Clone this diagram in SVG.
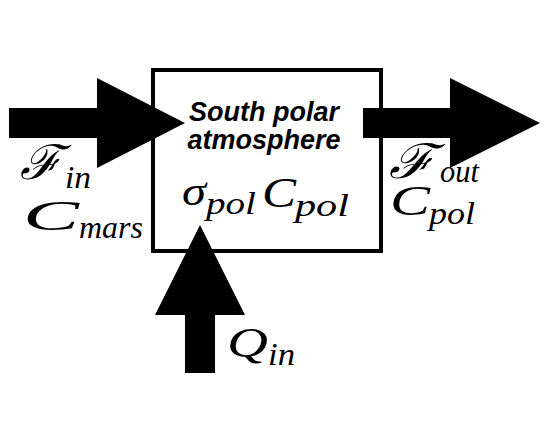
<svg xmlns="http://www.w3.org/2000/svg" width="545" height="421" viewBox="0 0 545 421">
<style>
.title{font-family:"Liberation Sans",Arial,sans-serif;font-weight:bold;font-style:italic;font-size:27px;fill:#000;text-anchor:middle}
.m{font-family:"Liberation Serif","DejaVu Serif",serif;font-style:italic;fill:#000}
.big{font-size:43px}
.scr{font-size:48px}
.sub{font-size:31px}
.arrow{fill:#000;stroke:none}
</style>
<rect width="545" height="421" fill="#fff"/>
<g id="polar-atmosphere">
<rect x="153" y="70" width="228" height="181" fill="#fff" stroke="#000" stroke-width="4"/>
<text class="title" x="264" y="121">South polar</text>
<text class="title" x="264" y="149">atmosphere</text>
<text class="m big" x="182" y="205" textLength="24" lengthAdjust="spacingAndGlyphs">σ</text>
<text class="m sub" x="206" y="214" textLength="50" lengthAdjust="spacingAndGlyphs">pol</text>
<text class="m big" x="262" y="207" textLength="34" lengthAdjust="spacingAndGlyphs">C</text>
<text class="m sub" x="295" y="216" textLength="54" lengthAdjust="spacingAndGlyphs">pol</text>
</g>
<g id="connectors">
<polygon class="arrow" points="9,108 97,108 97,78 185,123 97,168 97,138 9,138"/>
<polygon class="arrow" points="363,108 450,108 450,78 540,123 450,168 450,138 363,138"/>
<polygon class="arrow" points="185,373 185,315 155,315 200,225 245,315 215,315 215,373"/>
<text class="m scr" x="20" y="179" textLength="42" lengthAdjust="spacingAndGlyphs">ℱ</text>
<text class="m sub" x="65" y="188" textLength="26" lengthAdjust="spacingAndGlyphs">in</text>
<text class="m big" x="23" y="230" textLength="56" lengthAdjust="spacingAndGlyphs">C</text>
<text class="m sub" x="79" y="238" textLength="64" lengthAdjust="spacingAndGlyphs">mars</text>
<text class="m scr" x="389" y="178" textLength="46" lengthAdjust="spacingAndGlyphs">ℱ</text>
<text class="m sub" x="440" y="182" textLength="39" lengthAdjust="spacingAndGlyphs">out</text>
<text class="m big" x="390" y="215" textLength="40" lengthAdjust="spacingAndGlyphs">C</text>
<text class="m sub" x="429" y="224" textLength="46" lengthAdjust="spacingAndGlyphs">pol</text>
<text class="m big" x="227" y="357" textLength="41" lengthAdjust="spacingAndGlyphs">Q</text>
<text class="m sub" x="268" y="365" textLength="27" lengthAdjust="spacingAndGlyphs">in</text>
</g>
</svg>
